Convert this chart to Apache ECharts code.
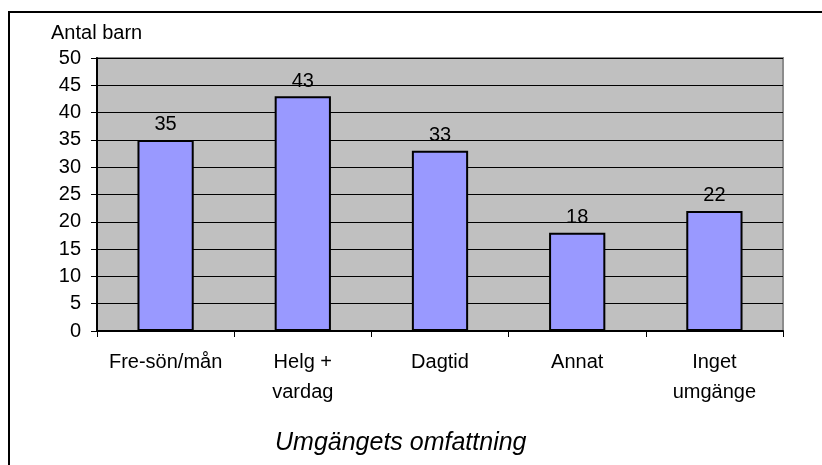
<!DOCTYPE html>
<html>
<head>
<meta charset="utf-8">
<script src="https://cdn.jsdelivr.net/npm/echarts@6/dist/echarts.min.js"></script>
<style>
  html, body { margin: 0; padding: 0; background: #fff; }
  #chart { width: 822px; height: 465px; }
</style>
</head>
<body>
<div id="chart"></div>
<script>
const categories = ['Fre-sön/mån', 'Helg +\nvardag', 'Dagtid', 'Annat', 'Inget\numgänge'];
const antalBarn = [35, 43, 33, 18, 22];
const yMin = 0;
const yMax = 50;
const yStep = 5;

const font = 'Arial, "Liberation Sans", sans-serif';
const myChart = echarts.init(document.getElementById('chart'));

const option = {
  animation: false,
  backgroundColor: '#fff',
  title: [
    {
      text: 'Antal barn',
      left: 46,
      top: 18,
      textStyle: { fontFamily: font, fontSize: 20, fontWeight: 'normal', color: '#000' }
    },
    {
      text: 'Umgängets omfattning',
      left: 270,
      top: 426,
      textStyle: { fontFamily: font, fontSize: 25, fontWeight: 'normal', fontStyle: 'italic', color: '#000' }
    }
  ],
  graphic: [
    {
      type: 'rect',
      shape: { x: 9, y: 12, width: 900, height: 600 },
      style: { fill: 'none', stroke: '#000', lineWidth: 2 },
      silent: true
    }
  ],
  grid: {
    left: 97,
    top: 58,
    width: 686,
    height: 273,
    show: true,
    backgroundColor: '#C0C0C0',
    borderColor: '#8c8c8c',
    borderWidth: 2
  },
  xAxis: {
    type: 'category',
    data: categories,
    axisLine: { lineStyle: { color: '#000', width: 2 } },
    axisTick: { show: true, length: 6, lineStyle: { color: '#000' } },
    axisLabel: {
      fontFamily: font, fontSize: 20, color: '#000',
      margin: 16, lineHeight: 30, interval: 0
    }
  },
  yAxis: {
    type: 'value',
    min: yMin,
    max: yMax,
    interval: yStep,
    axisLine: { show: true, lineStyle: { color: '#000', width: 2 } },
    axisTick: { show: true, length: 6, lineStyle: { color: '#000' } },
    axisLabel: { fontFamily: font, fontSize: 20, color: '#000', margin: 16 },
    splitLine: { show: true, lineStyle: { color: '#000', width: 1 } }
  },
  series: [
    {
      type: 'bar',
      data: antalBarn,
      barWidth: '41%',
      itemStyle: { color: '#9999FF', borderColor: '#000', borderWidth: 2 },
      label: {
        show: true,
        position: 'top',
        distance: 5,
        fontFamily: font,
        fontSize: 20,
        color: '#000'
      }
    }
  ]
};

option && myChart.setOption(option);
</script>
</body>
</html>
